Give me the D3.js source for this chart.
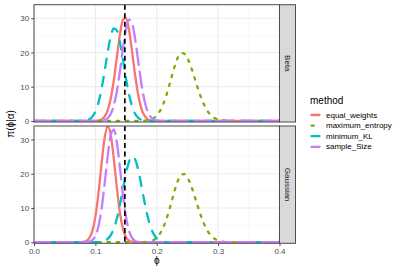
<!DOCTYPE html>
<html>
<head>
<meta charset="utf-8">
<script src="https://cdn.jsdelivr.net/npm/d3@7.9.0/dist/d3.min.js"></script>
<style>
  body { margin: 0; background: #fff; }
  svg { display: block; font-family: "Liberation Sans", Arial, sans-serif; }
</style>
</head>
<body>
<svg id="chart" width="402" height="273"></svg>
<script>
// sample points on the phi axis (shared by every curve)
const phi = [0,
  0.07, 0.075, 0.08, 0.085, 0.09, 0.095, 0.1, 0.105, 0.11, 0.115,
  0.12, 0.125, 0.13, 0.135, 0.14, 0.145, 0.15, 0.155, 0.16, 0.165,
  0.17, 0.175, 0.18, 0.185, 0.19, 0.195, 0.2, 0.205, 0.21, 0.215,
  0.22, 0.225, 0.23, 0.235, 0.24, 0.245, 0.25, 0.255, 0.26, 0.265,
  0.27, 0.275, 0.28, 0.285, 0.29, 0.295, 0.3, 0.305, 0.31, 0.315,
  0.32, 0.4];

const methods = ['equal_weights', 'maximum_entropy', 'minimum_KL', 'sample_Size'];
const facets = ['Beta', 'Gaussian'];
const refLine = 0.148;

// Beta panel densities
const betaEqual = [0,
  0, 0, 0, 0, 0, 0, 0.04, 0.14, 0.45, 1.27,
  3.10, 6.51, 11.83, 18.58, 25.23, 29.61, 30.05, 26.36, 19.98, 13.10,
  7.42, 3.63, 1.54, 0.56, 0.18, 0.05, 0, 0, 0, 0,
  0, 0, 0, 0, 0, 0, 0, 0, 0, 0,
  0, 0, 0, 0, 0, 0, 0, 0, 0, 0,
  0, 0];
const betaMaxEnt = [0,
  0, 0, 0, 0, 0, 0, 0, 0, 0, 0,
  0, 0, 0, 0, 0, 0, 0, 0, 0, 0,
  0.01, 0.03, 0.08, 0.19, 0.41, 0.84, 1.61, 2.84, 4.67, 7.13,
  10.13, 13.37, 16.40, 18.71, 19.83, 19.62, 18.33, 16.18, 13.50, 10.64,
  7.92, 5.58, 3.71, 2.33, 1.38, 0.78, 0.41, 0.21, 0.10, 0.04,
  0.02, 0];
const betaMinKL = [0,
  0, 0.02, 0.06, 0.18, 0.51, 1.25, 2.74, 5.36, 9.33, 14.49,
  20.03, 24.67, 27.06, 26.44, 23.02, 17.84, 12.32, 7.58, 4.15, 2.03,
  0.88, 0.34, 0.12, 0.04, 0, 0, 0, 0, 0, 0,
  0, 0, 0, 0, 0, 0, 0, 0, 0, 0,
  0, 0, 0, 0, 0, 0, 0, 0, 0, 0,
  0, 0];
const betaSample = [0,
  0, 0, 0, 0, 0, 0, 0, 0.02, 0.08, 0.28,
  0.80, 2.04, 4.52, 8.70, 14.56, 21.20, 26.87, 29.62, 28.41, 23.70,
  17.21, 10.87, 5.98, 2.86, 1.19, 0.43, 0.14, 0.04, 0, 0,
  0, 0, 0, 0, 0, 0, 0, 0, 0, 0,
  0, 0, 0, 0, 0, 0, 0, 0, 0, 0,
  0, 0];

// Gaussian panel densities
const gaussEqual = [0,
  0, 0.02, 0.09, 0.37, 1.20, 3.27, 7.47, 14.26, 22.75, 30.32,
  33.77, 31.43, 24.44, 15.89, 8.62, 3.92, 1.48, 0.47, 0.12, 0.03,
  0.01, 0, 0, 0, 0, 0, 0, 0, 0, 0,
  0, 0, 0, 0, 0, 0, 0, 0, 0, 0,
  0, 0, 0, 0, 0, 0, 0, 0, 0, 0,
  0, 0];
const gaussMaxEnt = [0,
  0, 0, 0, 0, 0, 0, 0, 0, 0, 0,
  0, 0, 0, 0, 0, 0, 0, 0, 0, 0,
  0, 0.02, 0.06, 0.15, 0.33, 0.69, 1.34, 2.43, 4.07, 6.36,
  9.23, 12.46, 15.62, 18.21, 19.74, 19.91, 18.92, 16.98, 14.41, 11.55,
  8.75, 6.26, 4.24, 2.71, 1.63, 0.93, 0.50, 0.26, 0.12, 0.06,
  0.02, 0];
const gaussMinKL = [0,
  0, 0, 0, 0, 0, 0, 0.02, 0.06, 0.16, 0.42,
  0.98, 2.08, 3.99, 6.94, 10.93, 15.61, 20.19, 23.64, 25.09, 24.11,
  21.00, 16.56, 11.84, 7.66, 4.49, 2.38, 1.15, 0.50, 0.20, 0.07,
  0.02, 0, 0, 0, 0, 0, 0, 0, 0, 0,
  0, 0, 0, 0, 0, 0, 0, 0, 0, 0,
  0, 0];
const gaussSample = [0,
  0, 0, 0.01, 0.04, 0.18, 0.64, 1.87, 4.62, 9.61, 16.90,
  25.02, 31.24, 32.89, 29.18, 21.83, 13.77, 7.32, 3.28, 1.24, 0.39,
  0.11, 0.03, 0.01, 0, 0, 0, 0, 0, 0, 0,
  0, 0, 0, 0, 0, 0, 0, 0, 0, 0,
  0, 0, 0, 0, 0, 0, 0, 0, 0, 0,
  0, 0];

const xTicks = [0, 0.1, 0.2, 0.3, 0.4];
const yTicks = [0, 10, 20, 30];

const panelData = [
  [betaEqual, betaMaxEnt, betaMinKL, betaSample],
  [gaussEqual, gaussMaxEnt, gaussMinKL, gaussSample]
];

const colors = d3.scaleOrdinal()
  .domain(methods)
  .range(['#F8766D', '#7CAE00', '#00BFC4', '#C77CFF']);
const lw = 2.3;
const dashes = {
  equal_weights: null,
  maximum_entropy: `${lw * 1} ${lw * 3}`,
  minimum_KL: `${lw * 4} ${lw * 4}`,
  sample_Size: `${lw * 7} ${lw * 3}`
};

const svg = d3.select('#chart');
const left = 34, right = 279.5;
const panelTops = [4.7, 126];
const panelH = 117.3;
const stripW = 16;

const x = d3.scaleLinear().domain([0, 0.4]).range([left, right]);

panelTops.forEach((top, pi) => {
  const y = d3.scaleLinear().domain([-0.3, 33.95]).range([top + panelH, top]);
  const g = svg.append('g');

  g.append('rect')
    .attr('x', left).attr('y', top)
    .attr('width', right - left).attr('height', panelH)
    .attr('fill', '#fff');

  // minor grid
  [0.05, 0.15, 0.25, 0.35].forEach((v) => {
    g.append('line')
      .attr('x1', x(v)).attr('x2', x(v))
      .attr('y1', top).attr('y2', top + panelH)
      .attr('stroke', '#f2f2f2').attr('stroke-width', 0.6);
  });
  [5, 15, 25].forEach((v) => {
    g.append('line')
      .attr('x1', left).attr('x2', right)
      .attr('y1', y(v)).attr('y2', y(v))
      .attr('stroke', '#f2f2f2').attr('stroke-width', 0.6);
  });
  // major grid
  xTicks.forEach((v) => {
    g.append('line')
      .attr('x1', x(v)).attr('x2', x(v))
      .attr('y1', top).attr('y2', top + panelH)
      .attr('stroke', '#ebebeb').attr('stroke-width', 1.1);
  });
  yTicks.forEach((v) => {
    g.append('line')
      .attr('x1', left).attr('x2', right)
      .attr('y1', y(v)).attr('y2', y(v))
      .attr('stroke', '#ebebeb').attr('stroke-width', 1.1);
  });

  const clipId = `clip${pi}`;
  svg.append('clipPath').attr('id', clipId)
    .append('rect')
    .attr('x', left).attr('y', top)
    .attr('width', right - left).attr('height', panelH);

  const line = d3.line()
    .x((d) => x(d[0]))
    .y((d) => y(d[1]))
    .curve(d3.curveMonotoneX);

  const curves = g.append('g').attr('clip-path', `url(#${clipId})`);
  methods.forEach((m, mi) => {
    const pts = phi.map((p, i) => [p, panelData[pi][mi][i]]);
    curves.append('path')
      .attr('d', line(pts))
      .attr('fill', 'none')
      .attr('stroke', colors(m))
      .attr('stroke-width', lw)
      .attr('stroke-linecap', 'round')
      .attr('stroke-linejoin', 'round')
      .attr('stroke-dasharray', dashes[m]);
  });

  curves.append('line')
    .attr('x1', x(refLine)).attr('x2', x(refLine))
    .attr('y1', top).attr('y2', top + panelH)
    .attr('stroke', '#000')
    .attr('stroke-width', 1.7)
    .attr('stroke-dasharray', '5 3.5');

  g.append('rect')
    .attr('x', left).attr('y', top)
    .attr('width', right - left).attr('height', panelH)
    .attr('fill', 'none').attr('stroke', '#4d4d4d').attr('stroke-width', 1);

  // y axis
  const yAxis = g.append('g')
    .attr('transform', `translate(${left},0)`)
    .call(d3.axisLeft(y).tickValues(yTicks).tickSize(2.8).tickPadding(2));
  yAxis.select('.domain').remove();
  yAxis.selectAll('line').attr('stroke', '#4d4d4d');
  yAxis.selectAll('text')
    .attr('fill', '#4d4d4d')
    .style('font-size', '8px')
    .style('font-family', '"Liberation Sans", Arial, sans-serif');

  // strip
  g.append('rect')
    .attr('x', right).attr('y', top)
    .attr('width', stripW).attr('height', panelH)
    .attr('fill', '#d9d9d9').attr('stroke', '#4d4d4d').attr('stroke-width', 1);
  g.append('text')
    .attr('transform', `translate(${right + stripW / 2},${top + panelH / 2}) rotate(90)`)
    .attr('text-anchor', 'middle')
    .attr('dominant-baseline', 'central')
    .attr('fill', '#1a1a1a')
    .style('font-size', '8px')
    .text(facets[pi]);
});

// x axis
const bottom = panelTops[1] + panelH;
const xAxis = svg.append('g')
  .attr('transform', `translate(0,${bottom})`)
  .call(d3.axisBottom(x).tickValues(xTicks).tickFormat(d3.format('.1f')).tickSize(2.8).tickPadding(2));
xAxis.select('.domain').remove();
xAxis.selectAll('line').attr('stroke', '#4d4d4d');
xAxis.selectAll('text')
  .attr('fill', '#4d4d4d')
  .style('font-size', '8px')
  .style('font-family', '"Liberation Sans", Arial, sans-serif');

svg.append('text')
  .attr('x', (left + right) / 2).attr('y', 264)
  .attr('text-anchor', 'middle')
  .style('font-size', '10px')
  .text('ϕ');

svg.append('text')
  .attr('transform', `translate(10.5,${(panelTops[0] + bottom) / 2}) rotate(-90)`)
  .attr('text-anchor', 'middle')
  .attr('dominant-baseline', 'central')
  .style('font-size', '10px')
  .text('π(ϕ|α)');

// legend
const legend = svg.append('g').attr('transform', 'translate(310,0)');
legend.append('text')
  .attr('x', 0).attr('y', 103.5)
  .style('font-size', '10px')
  .text('method');
methods.forEach((m, i) => {
  const cy = 115 + i * 10.6;
  legend.append('line')
    .attr('x1', 1.5).attr('x2', 9.5)
    .attr('y1', cy).attr('y2', cy)
    .attr('stroke', colors(m))
    .attr('stroke-width', lw)
    .attr('stroke-linecap', 'round')
    .attr('stroke-dasharray', dashes[m]);
  legend.append('text')
    .attr('x', 16).attr('y', cy)
    .attr('dominant-baseline', 'central')
    .style('font-size', '8px')
    .text(m);
});
</script>
</body>
</html>
